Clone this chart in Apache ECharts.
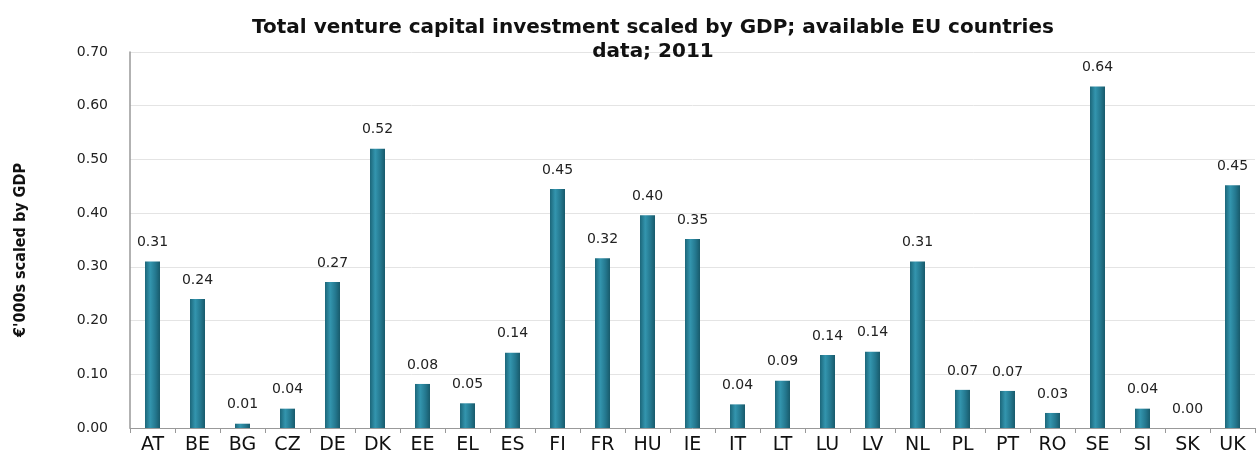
<!DOCTYPE html>
<html>
<head>
<meta charset="utf-8">
<script src="https://cdn.jsdelivr.net/npm/echarts@6/dist/echarts.min.js"></script>
<style>
  html, body { margin: 0; padding: 0; background: #fff; }
  #chart { width: 1259px; height: 464px; }
</style>
</head>
<body>
<div id="chart"></div>
<script>
const countries = ['AT', 'BE', 'BG', 'CZ', 'DE', 'DK', 'EE', 'EL', 'ES', 'FI', 'FR', 'HU', 'IE',
  'IT', 'LT', 'LU', 'LV', 'NL', 'PL', 'PT', 'RO', 'SE', 'SI', 'SK', 'UK']
const vcByGdp = [0.31, 0.24, 0.008, 0.036, 0.272, 0.52, 0.082, 0.046, 0.14, 0.445, 0.316, 0.396, 0.352,
  0.044, 0.088, 0.136, 0.142, 0.31, 0.071, 0.069, 0.028, 0.636, 0.036, 0.0, 0.452]
const yTicks = [0, 0.1, 0.2, 0.3, 0.4, 0.5, 0.6, 0.7]

const chart = echarts.init(document.getElementById('chart'))

const option = {
  animation: false,
  title: {
    text: 'Total venture capital investment scaled by GDP; available EU countries\ndata; 2011',
    left: 648,
    top: 11,
    textAlign: 'center',
    textStyle: {
      fontFamily: 'DejaVu Sans',
      fontSize: 20,
      fontWeight: 'bold',
      color: '#111',
      lineHeight: 24
    }
  },
  graphic: [
    {
      type: 'text',
      x: 21,
      y: 250,
      rotation: Math.PI / 2,
      style: {
        text: "€'000s scaled by GDP",
        fontFamily: 'Liberation Sans Narrow, DejaVu Sans Condensed',
        fontWeight: 'bold',
        fontSize: 16,
        fill: '#111',
        align: 'center',
        verticalAlign: 'middle'
      }
    }
  ],
  grid: {
    left: 130,
    right: 4,
    top: 52,
    bottom: 36
  },
  xAxis: {
    type: 'category',
    data: countries,
    axisLine: { lineStyle: { color: '#999' } },
    axisTick: { show: true, length: 5, lineStyle: { color: '#999' } },
    axisLabel: {
      color: '#111',
      fontFamily: 'DejaVu Sans',
      fontSize: 19,
      margin: 8
    }
  },
  yAxis: {
    type: 'value',
    min: 0,
    max: yTicks[yTicks.length - 1],
    interval: 0.1,
    axisLine: { show: true, lineStyle: { color: '#999', width: 1.5 } },
    axisTick: { show: false },
    splitLine: { lineStyle: { color: '#e4e4e4' } },
    axisLabel: {
      color: '#222',
      fontFamily: 'DejaVu Sans',
      fontSize: 14,
      margin: 22,
      formatter: v => v.toFixed(2)
    }
  },
  series: [
    {
      type: 'bar',
      data: vcByGdp,
      barWidth: 15,
      itemStyle: {
        color: new echarts.graphic.LinearGradient(0, 0, 1, 0, [
          { offset: 0, color: '#1c6679' },
          { offset: 0.35, color: '#3395ae' },
          { offset: 0.7, color: '#24788f' },
          { offset: 1, color: '#185a6b' }
        ])
      },
      label: {
        show: true,
        position: 'top',
        distance: 12,
        color: '#222',
        fontFamily: 'DejaVu Sans',
        fontSize: 14,
        formatter: p => p.value.toFixed(2)
      }
    }
  ]
}

chart.setOption(option)
window.addEventListener('resize', () => chart.resize())
</script>
</body>
</html>
